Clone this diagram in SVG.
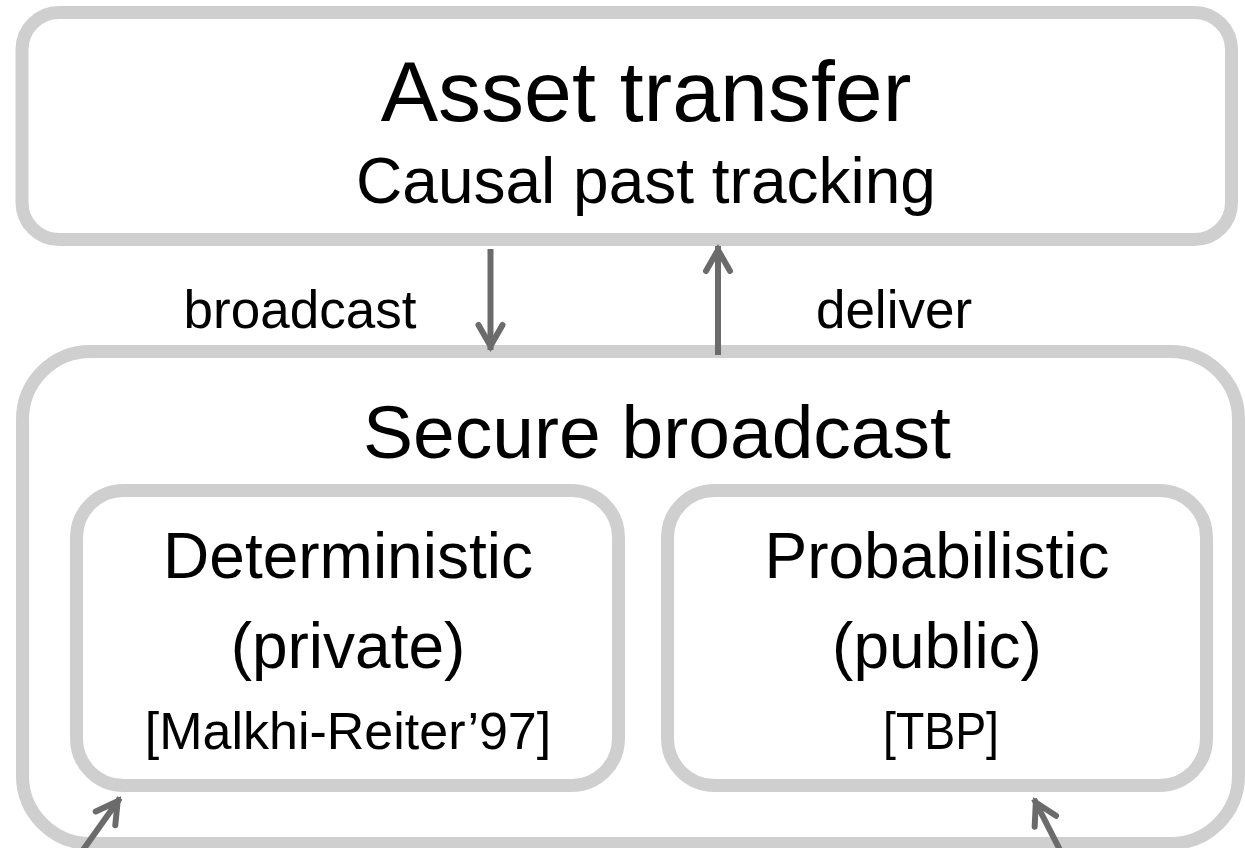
<svg xmlns="http://www.w3.org/2000/svg" width="1245" height="848" viewBox="0 0 1245 848">
  <style>
    .box { fill: #ffffff; stroke: #cfcfcf; stroke-width: 13; }
    .t { font-family: "Liberation Sans", Arial, sans-serif; fill: #000000; text-anchor: middle; }
    .conn { fill: none; stroke: #6b6b6b; stroke-width: 6; marker-end: url(#ah); }
  </style>
  <defs>
    <marker id="ah" markerUnits="userSpaceOnUse" viewBox="-30 -18 40 36" markerWidth="40" markerHeight="36" refX="4" refY="0" orient="auto">
      <path d="M-21,-12 L0,0 L-21,12" fill="none" stroke="#6b6b6b" stroke-width="6" stroke-linecap="round" stroke-linejoin="miter"/>
    </marker>
  </defs>
  <rect width="1245" height="848" fill="#ffffff"/>

  <g id="asset-transfer">
    <rect class="box" x="22" y="12.5" width="1209.5" height="227" rx="37" ry="37"/>
    <text class="t" x="646" y="121" font-size="86">Asset transfer</text>
    <text class="t" x="646" y="203" font-size="64">Causal past tracking</text>
  </g>

  <g id="secure-broadcast">
    <rect class="box" x="22.5" y="351.5" width="1216" height="492" rx="68" ry="68"/>
    <text class="t" x="657" y="458" font-size="75">Secure broadcast</text>
  </g>

  <g id="deterministic">
    <rect class="box" x="76.5" y="490.5" width="542" height="295" rx="47" ry="47"/>
    <text class="t" x="348" y="578" font-size="64">Deterministic</text>
    <text class="t" x="348" y="668" font-size="64">(private)</text>
    <text class="t" x="348" y="749" font-size="52">[Malkhi-Reiter’97]</text>
  </g>

  <g id="probabilistic">
    <rect class="box" x="667.5" y="490.5" width="539" height="295" rx="47" ry="47"/>
    <text class="t" x="937" y="578" font-size="64">Probabilistic</text>
    <text class="t" x="937" y="668" font-size="64">(public)</text>
    <text class="t" x="941" y="749" font-size="52" textLength="116" lengthAdjust="spacingAndGlyphs">[TBP]</text>
  </g>

  <g id="connectors">
    <path class="conn" d="M490.5,249 L490.5,350"/>
    <path class="conn" d="M718,355 L718,246"/>
    <path class="conn" d="M83,850 L120,798"/>
    <path class="conn" d="M1060,850 L1034,799"/>
    <text class="t" x="300" y="328" font-size="53">broadcast</text>
    <text class="t" x="894" y="328" font-size="53">deliver</text>
  </g>
</svg>
